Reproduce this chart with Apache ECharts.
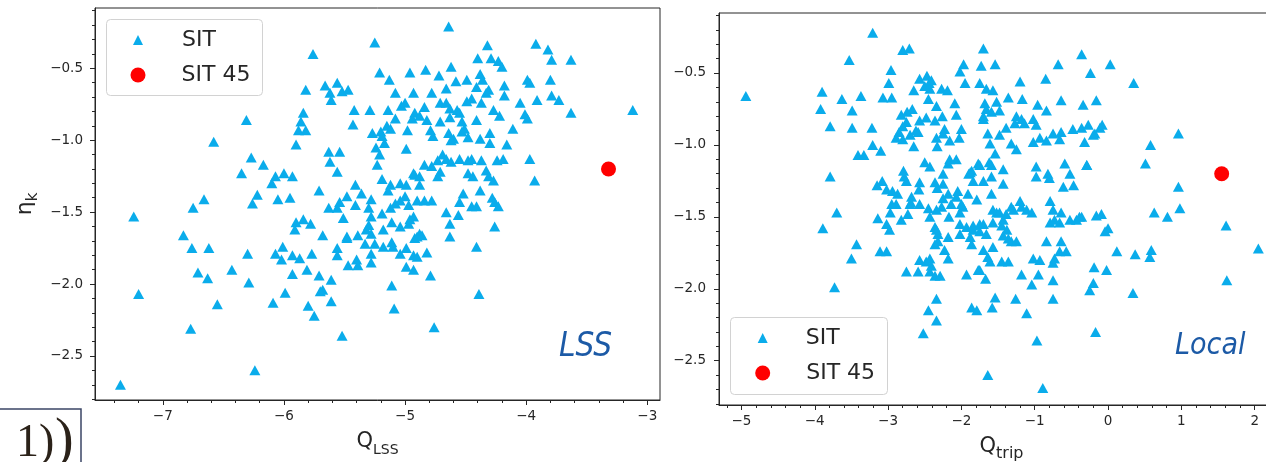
<!DOCTYPE html>
<html>
<head>
<meta charset="utf-8">
<script src="https://cdn.jsdelivr.net/npm/echarts@6/dist/echarts.min.js"></script>
<style>
  html, body { margin: 0; background: #fff; }
  #chart { width: 1266px; height: 462px; }
</style>
</head>
<body>
<div id="chart"></div>
<script>
// eta_k against Q_LSS (left panel), [Q, eta]
const lssSit = [
  [-7.24,-1.53],[-6.58,-1.01],[-6.31,-0.86],[-5.76,-0.40],[-5.25,-0.32],[-6.83,-1.66],[-6.75,-1.47],[-6.66,-1.41],
  [-6.27,-1.12],[-6.35,-1.23],[-6.17,-1.17],[-6.26,-1.44],[-6.22,-1.38],[-6.05,-1.41],[-5.95,-1.40],[-6.10,-1.30],
  [-6.07,-1.25],[-6.00,-1.23],[-5.93,-1.25],[-5.90,-1.03],[-5.88,-0.93],[-5.82,-0.93],[-5.84,-0.81],[-5.86,-0.87],
  [-5.82,-0.65],[-5.71,-1.35],[-5.66,-0.62],[-5.61,-0.72],[-5.56,-0.60],[-5.52,-0.66],[-5.47,-0.65],[-5.62,-0.67],
  [-5.63,-1.08],[-5.62,-1.15],[-5.54,-1.08],[-5.56,-1.22],[-5.42,-0.79],[-5.43,-0.89],[-5.29,-0.79],[-5.21,-0.53],
  [-5.13,-0.58],[-4.96,-0.53],[-5.08,-0.67],[-5.03,-0.76],[-4.93,-0.67],[-5.14,-0.79],[-5.08,-0.85],[-5.15,-0.90],
  [-5.20,-0.94],[-5.27,-0.95],[-5.19,-0.97],[-5.12,-0.92],[-5.24,-1.05],[-5.17,-1.02],[-5.21,-1.10],[-5.23,-1.17],
  [-4.99,-1.06],[-4.98,-0.93],[-4.92,-0.81],[-5.19,-1.27],[-5.12,-1.31],[-5.14,-1.35],[-5.04,-1.30],[-4.99,-1.31],
  [-4.92,-1.24],[-5.41,-1.31],[-5.36,-1.37],[-5.28,-1.41],[-5.48,-1.39],[-5.54,-1.43],[-5.63,-1.47],[-5.56,-1.47],
  [-5.51,-1.54],[-5.41,-1.45],[-5.30,-1.47],[-5.28,-1.53],[-5.19,-1.51],[-5.12,-1.47],[-5.08,-1.44],[-5.04,-1.42],
  [-4.97,-1.45],[-4.90,-1.42],[-5.90,-1.57],[-5.84,-1.55],[-5.78,-1.58],[-5.91,-1.62],[-5.68,-1.66],[-5.48,-1.67],
  [-5.39,-1.66],[-5.32,-1.62],[-5.28,-1.65],[-5.18,-1.62],[-5.11,-1.57],[-5.04,-1.60],[-4.97,-1.58],[-4.93,-1.53],
  [-5.30,-1.59],
  [-6.76,-1.75],[-6.62,-1.75],[-6.30,-1.79],[-6.71,-1.92],[-6.63,-1.96],[-6.43,-1.90],[-6.29,-1.99],[-7.20,-2.07],
  [-6.55,-2.14],[-6.77,-2.31],[-7.35,-2.70],[-6.24,-2.60],[-6.09,-2.13],[-5.99,-2.06],[-6.01,-1.74],[-6.07,-1.79],
  [-6.02,-1.83],[-5.93,-1.80],[-5.87,-1.82],[-5.77,-1.79],[-5.93,-1.93],[-5.81,-1.90],[-5.71,-1.94],[-5.61,-1.97],
  [-5.68,-2.04],[-5.70,-2.05],[-5.80,-2.15],[-5.75,-2.22],[-5.61,-2.12],[-5.52,-2.36],[-5.56,-1.75],[-5.56,-1.80],
  [-5.48,-1.68],[-5.47,-1.87],[-5.40,-1.83],[-5.39,-1.87],[-5.33,-1.72],[-5.28,-1.79],[-5.28,-1.85],[-5.25,-1.72],
  [-5.18,-1.74],[-5.11,-1.71],[-5.10,-1.74],[-5.04,-1.79],[-4.99,-1.75],[-4.92,-1.68],[-4.99,-1.88],[-4.93,-1.90],
  [-5.11,-2.01],[-5.09,-2.17],
  [-4.64,-0.21],[-4.32,-0.34],[-3.92,-0.33],[-3.82,-0.37],[-3.79,-0.44],[-3.63,-0.44],[-3.12,-0.79],[-4.40,-0.43],
  [-4.29,-0.43],[-4.23,-0.45],[-4.20,-0.49],[-4.83,-0.51],[-4.72,-0.55],[-4.62,-0.49],[-4.49,-0.58],[-4.38,-0.54],
  [-4.36,-0.58],[-4.58,-0.59],[-4.41,-0.63],[-4.33,-0.67],[-4.31,-0.65],[-4.78,-0.67],[-4.66,-0.64],[-4.18,-0.62],
  [-4.18,-0.69],[-3.99,-0.58],[-3.97,-0.60],[-3.80,-0.58],[-3.79,-0.69],[-3.73,-0.72],[-3.91,-0.72],[-4.05,-0.74],
  [-3.63,-0.81],[-5.00,-0.74],[-4.84,-0.77],[-4.71,-0.74],[-4.66,-0.74],[-4.63,-0.78],[-4.57,-0.79],[-4.55,-0.81],
  [-4.49,-0.73],[-4.45,-0.71],[-4.37,-0.74],[-4.27,-0.79],[-4.22,-0.83],[-4.01,-0.82],[-3.99,-0.85],[-4.11,-0.92],
  [-4.88,-0.83],[-4.94,-0.85],[-4.82,-0.86],[-4.71,-0.87],[-4.63,-0.84],[-4.53,-0.87],[-4.41,-0.86],[-4.51,-0.92],
  [-4.79,-0.93],[-4.77,-0.97],[-4.64,-0.95],[-4.60,-0.99],[-4.62,-1.00],[-4.53,-0.94],[-4.48,-0.98],[-4.38,-0.99],
  [-4.30,-0.95],[-4.30,-1.02],[-4.16,-1.03],[-4.69,-1.10],[-4.66,-1.13],[-4.73,-1.14],[-4.62,-1.15],[-4.55,-1.13],
  [-4.48,-1.14],[-4.45,-1.13],[-4.37,-1.14],[-4.24,-1.14],[-4.19,-1.13],[-3.97,-1.13],[-3.93,-1.28],[-4.84,-1.17],
  [-4.78,-1.18],[-4.93,-1.23],[-4.88,-1.25],[-4.71,-1.22],[-4.73,-1.25],[-4.48,-1.23],[-4.44,-1.25],[-4.33,-1.21],
  [-4.31,-1.25],[-4.27,-1.28],[-4.88,-1.31],[-5.00,-1.39],[-4.84,-1.42],[-4.78,-1.42],[-4.52,-1.37],[-4.38,-1.35],
  [-4.28,-1.40],[-4.26,-1.43],[-4.55,-1.43],[-4.45,-1.46],[-4.41,-1.46],[-4.23,-1.46],[-4.66,-1.50],[-4.56,-1.52],
  [-4.63,-1.58],[-4.26,-1.60],[-4.96,-1.55],[-4.88,-1.65],[-4.63,-1.67],
  [-4.90,-1.67],[-4.86,-1.66],[-4.93,-1.80],[-4.90,-1.81],[-4.82,-1.78],[-4.79,-1.94],[-4.41,-1.74],[-4.39,-2.07],
  [-4.76,-2.30]
];
const lssSit45 = [[-3.32, -1.20]];

// eta_k against Q_trip (right panel), [Q, eta]
const tripSit = [
  [-4.94,-0.66],[-3.21,-0.22],[-3.53,-0.41],[-3.90,-0.63],[-3.92,-0.75],[-3.63,-0.68],[-3.49,-0.76],[-3.37,-0.66],
  [-3.79,-0.87],[-3.49,-0.88],[-3.22,-0.88],[-3.21,-1.00],[-3.10,-1.04],[-3.41,-1.07],[-3.33,-1.07],[-3.79,-1.22],
  [-3.70,-1.47],[-3.89,-1.58],[-3.14,-1.51],[-3.02,-1.55],[-2.98,-1.59],[-2.82,-1.52],[-3.15,-1.28],[-3.08,-1.25],
  [-2.94,-1.32],[-2.96,-0.48],[-2.99,-0.57],[-3.07,-0.67],[-2.95,-0.67],[-2.80,-0.34],[-2.71,-0.33],[-2.65,-0.62],
  [-2.67,-0.75],[-2.82,-0.79],[-2.75,-0.84],[-2.85,-0.91],[-2.89,-0.95],[-2.80,-0.96],[-2.70,-0.93],[-2.59,-0.91],
  [-2.65,-1.01],[-2.57,-0.83],[-2.57,-0.54],[-2.47,-0.52],[-2.44,-0.57],[-2.41,-0.55],[-2.45,-0.68],[-2.34,-0.73],
  [-2.27,-0.61],[-2.43,-0.61],[-2.36,-0.83],[-2.26,-0.80],[-2.23,-0.89],[-2.34,-0.95],[-2.25,-0.92],[-2.09,-0.71],
  [-2.07,-0.79],[-2.00,-0.89],[-2.03,-0.95],[-2.16,-0.97],[-2.33,-1.01],[-2.50,-1.12],[-2.43,-1.15],[-2.16,-1.10],
  [-2.07,-1.10],[-2.25,-1.20],[-2.18,-1.13],[-2.79,-1.18],[-2.75,-1.25],[-2.57,-1.26],[-2.36,-1.26],[-2.25,-1.27],
  [-2.18,-1.34],[-2.25,-1.37],[-2.27,-1.43],[-2.07,-1.36],[-2.00,-1.41],[-1.90,-1.20],[-1.77,-1.13],[-1.84,-1.25],
  [-2.68,-1.36],[-2.70,-1.41],[-2.57,-1.41],[-2.45,-1.44],[-2.34,-1.45],[-2.43,-1.50],[-2.17,-1.50],[-2.02,-1.47],
  [-1.98,-1.43],[-1.91,-1.34],[-1.79,-1.38],[-1.70,-1.25],[-2.36,-1.57],[-2.32,-1.62],[-2.18,-1.64],[-1.93,-1.57],
  [-1.84,-1.59],[-1.70,-1.55],[-2.02,-1.62],[-1.97,-0.44],[-2.02,-0.49],[-1.95,-0.57],[-1.75,-0.57],[-1.70,-0.33],
  [-1.66,-0.61],[-1.73,-0.45],[-1.68,-0.71],[-1.66,-0.75],[-1.70,-0.80],[-1.64,-0.92],
  [-0.36,-0.37],[-0.24,-0.50],[-0.68,-0.44],[-0.85,-0.54],[-1.20,-0.56],[-1.54,-0.44],[-1.57,-0.62],[-1.36,-0.67],
  [-1.17,-0.68],[-1.52,-0.70],[-1.59,-0.77],[-1.48,-0.76],[-1.70,-0.82],[-0.96,-0.72],[-0.84,-0.76],[-0.64,-0.69],
  [-0.34,-0.72],[-0.16,-0.69],[-1.25,-0.80],[-1.18,-0.82],[-1.27,-0.85],[-1.14,-0.85],[-1.02,-0.82],[-0.98,-0.86],
  [-1.39,-0.88],[-1.48,-0.93],[-1.61,-0.99],[-1.32,-0.99],[-1.25,-1.03],[-1.54,-1.06],[-1.02,-0.98],[-0.93,-0.95],
  [-0.84,-0.97],[-0.75,-0.92],[-0.64,-0.91],[-0.66,-0.96],[-0.48,-0.89],[-0.36,-0.88],[-0.27,-0.86],[-0.18,-0.92],
  [-0.32,-0.98],[-0.11,-0.88],[-0.98,-1.15],[-0.98,-1.22],[-0.82,-1.20],[-0.80,-1.23],[-0.59,-1.13],[-0.52,-1.20],
  [-0.47,-1.28],[-0.61,-1.29],[-0.29,-1.14],[-1.43,-1.17],[-1.59,-1.14],[-1.59,-1.22],[-1.43,-1.27],[-1.59,-1.34],
  [-1.75,-1.14],[-1.86,-1.18],[-1.20,-1.39],[-1.18,-1.43],[-1.29,-1.45],[-1.11,-1.45],[-1.04,-1.47],[-0.79,-1.39],
  [-0.75,-1.45],[-0.64,-1.47],[-0.66,-1.54],[-0.79,-1.54],[-0.43,-1.52],[-0.36,-1.50],[-0.16,-1.49],[-1.39,-1.48],
  [-1.52,-1.47],[-1.43,-1.52],[-1.57,-1.54],
  [0.03,-0.44],[0.35,-0.57],[-0.08,-0.86],[-0.20,-0.93],[-0.29,-1.14],[0.96,-0.92],[0.58,-1.00],[0.51,-1.13],
  [0.96,-1.29],[0.98,-1.44],[0.63,-1.47],[0.81,-1.50],[1.61,-1.56],[-0.09,-1.48],[0.00,-1.58],[-0.04,-1.60],
  [-0.39,-1.50],[-0.52,-1.52],[-0.73,-1.52],
  [2.05,-1.72],[1.62,-1.94],[0.59,-1.73],[0.57,-1.78],[0.37,-1.76],[0.12,-1.74],[-0.02,-1.87],[-0.19,-1.85],
  [-0.20,-1.96],[-0.25,-2.01],[0.34,-2.03],[-0.17,-2.30],[-0.64,-1.67],[-0.66,-1.74],[-0.57,-1.74],[-0.73,-1.79],
  [-0.75,-1.82],[-0.84,-1.67],[-1.02,-1.79],[-0.93,-1.80],[-1.18,-1.90],[-1.04,-1.97],[-0.95,-1.90],[-0.75,-1.94],
  [-0.75,-2.07],[-1.26,-2.07],[-1.11,-2.17],[-1.54,-2.06],[-1.58,-2.13],[-1.67,-1.93],[-1.61,-1.81],[-1.64,-1.78],
  [-1.45,-1.81],[-1.36,-1.81],[-1.57,-1.71],[-1.70,-1.73],[-1.32,-1.67],[-1.36,-1.65],[-1.43,-1.63],[-0.97,-2.36],
  [-0.89,-2.69],[-1.64,-2.60],[-1.75,-1.87],
  [-3.43,-1.69],[-3.50,-1.79],[-3.73,-1.99],[-2.89,-1.41],[-2.73,-1.48],[-3.11,-1.74],[-3.02,-1.74],[-2.75,-1.88],
  [-2.59,-1.88],[-2.57,-1.80],[-2.48,-1.81],[-2.43,-1.79],[-2.41,-1.84],[-2.36,-1.91],[-2.29,-1.91],[-2.43,-1.88],
  [-2.34,-2.07],[-2.45,-2.15],[-2.34,-2.22],[-2.52,-2.31],[-1.93,-1.90],[-1.77,-1.87],[-1.86,-2.13],[-1.79,-2.15],
  [-1.86,-1.69],[-1.88,-1.64],[-1.75,-1.60],[-1.66,-1.62],[-1.45,-1.56],[-1.38,-1.59],[-1.25,-1.67],[-2.23,-1.73],
  [-2.18,-1.79],[-2.34,-1.59],[-2.36,-1.69],[-2.32,-1.67],[-2.02,-1.55],[-1.84,-1.56],[-1.75,-1.55],[-1.57,-1.45],
  [-1.48,-1.47],[-1.32,-1.43],
  [-3.02,-1.31],[-2.87,-1.34],[-2.78,-1.22],[-2.58,-1.31],[-2.69,-1.40],[-2.95,-1.41],[-2.97,-1.47],[-2.48,-0.81],
  [-2.62,-0.90],[-2.74,-0.77],[-2.80,-0.87],[-2.50,-0.59],[-2.19,-0.62],[-2.33,-1.30],[-2.05,-1.32],[-2.14,-1.41],
  [-1.88,-1.19],[-1.62,-1.12]
];
const tripSit45 = [[1.55, -1.20]];

// tick labels
const lssXTicks = [-7, -6, -5, -4, -3];
const tripXTicks = [-5, -4, -3, -2, -1, 0, 1, 2];
const etaTicks = [-2.5, -2.0, -1.5, -1.0, -0.5];

function steps(from, to, d) {
  const out = [];
  for (let v = from; v <= to + 1e-9; v += d) out.push(Math.round(v * 10) / 10);
  return out;
}
const lssXMinor = steps(-7.4, -3.0, 0.2);
const tripXMinor = steps(-5.2, 2.2, 0.2);
const etaMinor = steps(-2.8, -0.1, 0.1);

const FONT = 'DejaVu Sans';
const INK = '#262626';
const TRI = '#0aaceb';
const fmt = d => v => (v < 0 ? '\u2212' : '') + Math.abs(v).toFixed(d);

function majorAxis(pos, gridIndex, min, max, ticks, digits, margin, extra) {
  return Object.assign({
    type: 'value', gridIndex, min, max, position: pos,
    splitLine: { show: false },
    axisLine: { show: true, onZero: false, lineStyle: { color: INK, width: 1 } },
    axisTick: { show: true, customValues: ticks, length: 5, lineStyle: { color: INK, width: 1 } },
    axisLabel: { customValues: ticks, formatter: fmt(digits), margin, color: INK, fontSize: 13.5, fontFamily: FONT }
  }, extra || {});
}
function minorAxis(pos, gridIndex, min, max, ticks) {
  return {
    type: 'value', gridIndex, min, max, position: pos,
    splitLine: { show: false },
    axisLine: { show: false, onZero: false },
    axisTick: { show: true, customValues: ticks, length: 3, lineStyle: { color: INK, width: 1 } },
    axisLabel: { show: false }
  };
}
const nameRich = (big, small) => ({
  rich: {
    a: { fontSize: big, fontFamily: FONT, color: INK, verticalAlign: 'bottom', padding: [0, 0, 5, 0] },
    b: { fontSize: small, fontFamily: FONT, color: INK, verticalAlign: 'bottom' }
  }
});

const chart = echarts.init(document.getElementById('chart'));
const legendText = pad => ({ fontSize: 22, fontFamily: FONT, color: INK, padding: [0, 0, 0, pad] });

chart.setOption({
  animation: false,
  backgroundColor: '#fff',
  grid: [
    { left: 95, top: 8, width: 565, height: 392, show: true, borderColor: INK, borderWidth: 1, outerBoundsMode: 'none' },
    { left: 719, top: 13, width: 565, height: 392, show: true, borderColor: INK, borderWidth: 1, outerBoundsMode: 'none' }
  ],
  xAxis: [
    majorAxis('bottom', 0, -7.56, -2.895, lssXTicks, 0, 9, {
      name: '{a|Q}{b|LSS}', nameLocation: 'middle', nameGap: 31, nameTextStyle: nameRich(21, 14)
    }),
    minorAxis('bottom', 0, -7.56, -2.895, lssXMinor),
    majorAxis('bottom', 1, -5.306, 2.40, tripXTicks, 0, 9, {
      name: '{a|Q}{b|trip}', nameLocation: 'middle', nameGap: 31, nameTextStyle: nameRich(21, 16)
    }),
    minorAxis('bottom', 1, -5.306, 2.40, tripXMinor)
  ],
  yAxis: [
    majorAxis('left', 0, -2.806, -0.081, etaTicks, 1, 12, {
      name: '{a|\u03b7}{b|k}', nameLocation: 'middle', nameRotate: 90, nameGap: 54, nameTextStyle: nameRich(22, 15)
    }),
    minorAxis('left', 0, -2.806, -0.081, etaMinor),
    majorAxis('left', 1, -2.808, -0.083, etaTicks, 1, 13),
    minorAxis('left', 1, -2.808, -0.083, etaMinor)
  ],
  legend: [
    { data: ['SIT'], left: 133, top: 29, padding: 0, itemWidth: 10, itemHeight: 10, selectedMode: false, textStyle: legendText(34) },
    { data: ['SIT 45'], left: 130.5, top: 64, padding: 0, itemWidth: 15, itemHeight: 15, selectedMode: false, textStyle: legendText(31) },
    { data: ['SIT'], left: 757.7, top: 327, padding: 0, itemWidth: 10, itemHeight: 10, selectedMode: false, textStyle: legendText(33) },
    { data: ['SIT 45'], left: 755.2, top: 362, padding: 0, itemWidth: 15, itemHeight: 15, selectedMode: false, textStyle: legendText(31) }
  ],
  graphic: [
    { type: 'rect', z: 3, shape: { x: 106.5, y: 19.5, width: 156, height: 76, r: 4 },
      style: { fill: 'rgba(255,255,255,0.85)', stroke: '#d2d2d2', lineWidth: 1 } },
    { type: 'rect', z: 3, shape: { x: 730.5, y: 317.5, width: 157, height: 77, r: 4 },
      style: { fill: 'rgba(255,255,255,0.85)', stroke: '#d2d2d2', lineWidth: 1 } },
    { type: 'text', left: 559, top: 331, z: 5,
      style: { text: 'LSS', fontSize: 33, fontStyle: 'italic', fontFamily: 'DejaVu Sans Condensed', fill: '#1c5aa6' } },
    { type: 'text', left: 1175, top: 331, z: 5,
      style: { text: 'Local', fontSize: 30, fontStyle: 'italic', fontFamily: 'DejaVu Sans Condensed', fill: '#1c5aa6' } },
    // cropped caption box in the lower left corner
    { type: 'rect', shape: { x: -2, y: 409, width: 83, height: 60 },
      style: { fill: 'none', stroke: '#3b4666', lineWidth: 1.5 } },
    { type: 'text', left: 16, top: 421, style: { text: '1)', fontSize: 46, fontFamily: 'Liberation Serif', fill: '#2b2219' } },
    { type: 'text', left: 55, top: 414, style: { text: ')', fontSize: 56, fontFamily: 'Liberation Serif', fill: '#2b2219' } }
  ],
  series: [
    { name: 'SIT', type: 'scatter', xAxisIndex: 0, yAxisIndex: 0, data: lssSit,
      symbol: 'triangle', symbolSize: [11, 10], itemStyle: { color: TRI, opacity: 1 }, z: 2 },
    { name: 'SIT 45', type: 'scatter', xAxisIndex: 0, yAxisIndex: 0, data: lssSit45,
      symbol: 'circle', symbolSize: 15, itemStyle: { color: '#ff0000', opacity: 1 }, z: 3 },
    { name: 'SIT', type: 'scatter', xAxisIndex: 2, yAxisIndex: 2, data: tripSit,
      symbol: 'triangle', symbolSize: [11, 10], itemStyle: { color: TRI, opacity: 1 }, z: 2 },
    { name: 'SIT 45', type: 'scatter', xAxisIndex: 2, yAxisIndex: 2, data: tripSit45,
      symbol: 'circle', symbolSize: 15, itemStyle: { color: '#ff0000', opacity: 1 }, z: 3 }
  ]
});
</script>
</body>
</html>
